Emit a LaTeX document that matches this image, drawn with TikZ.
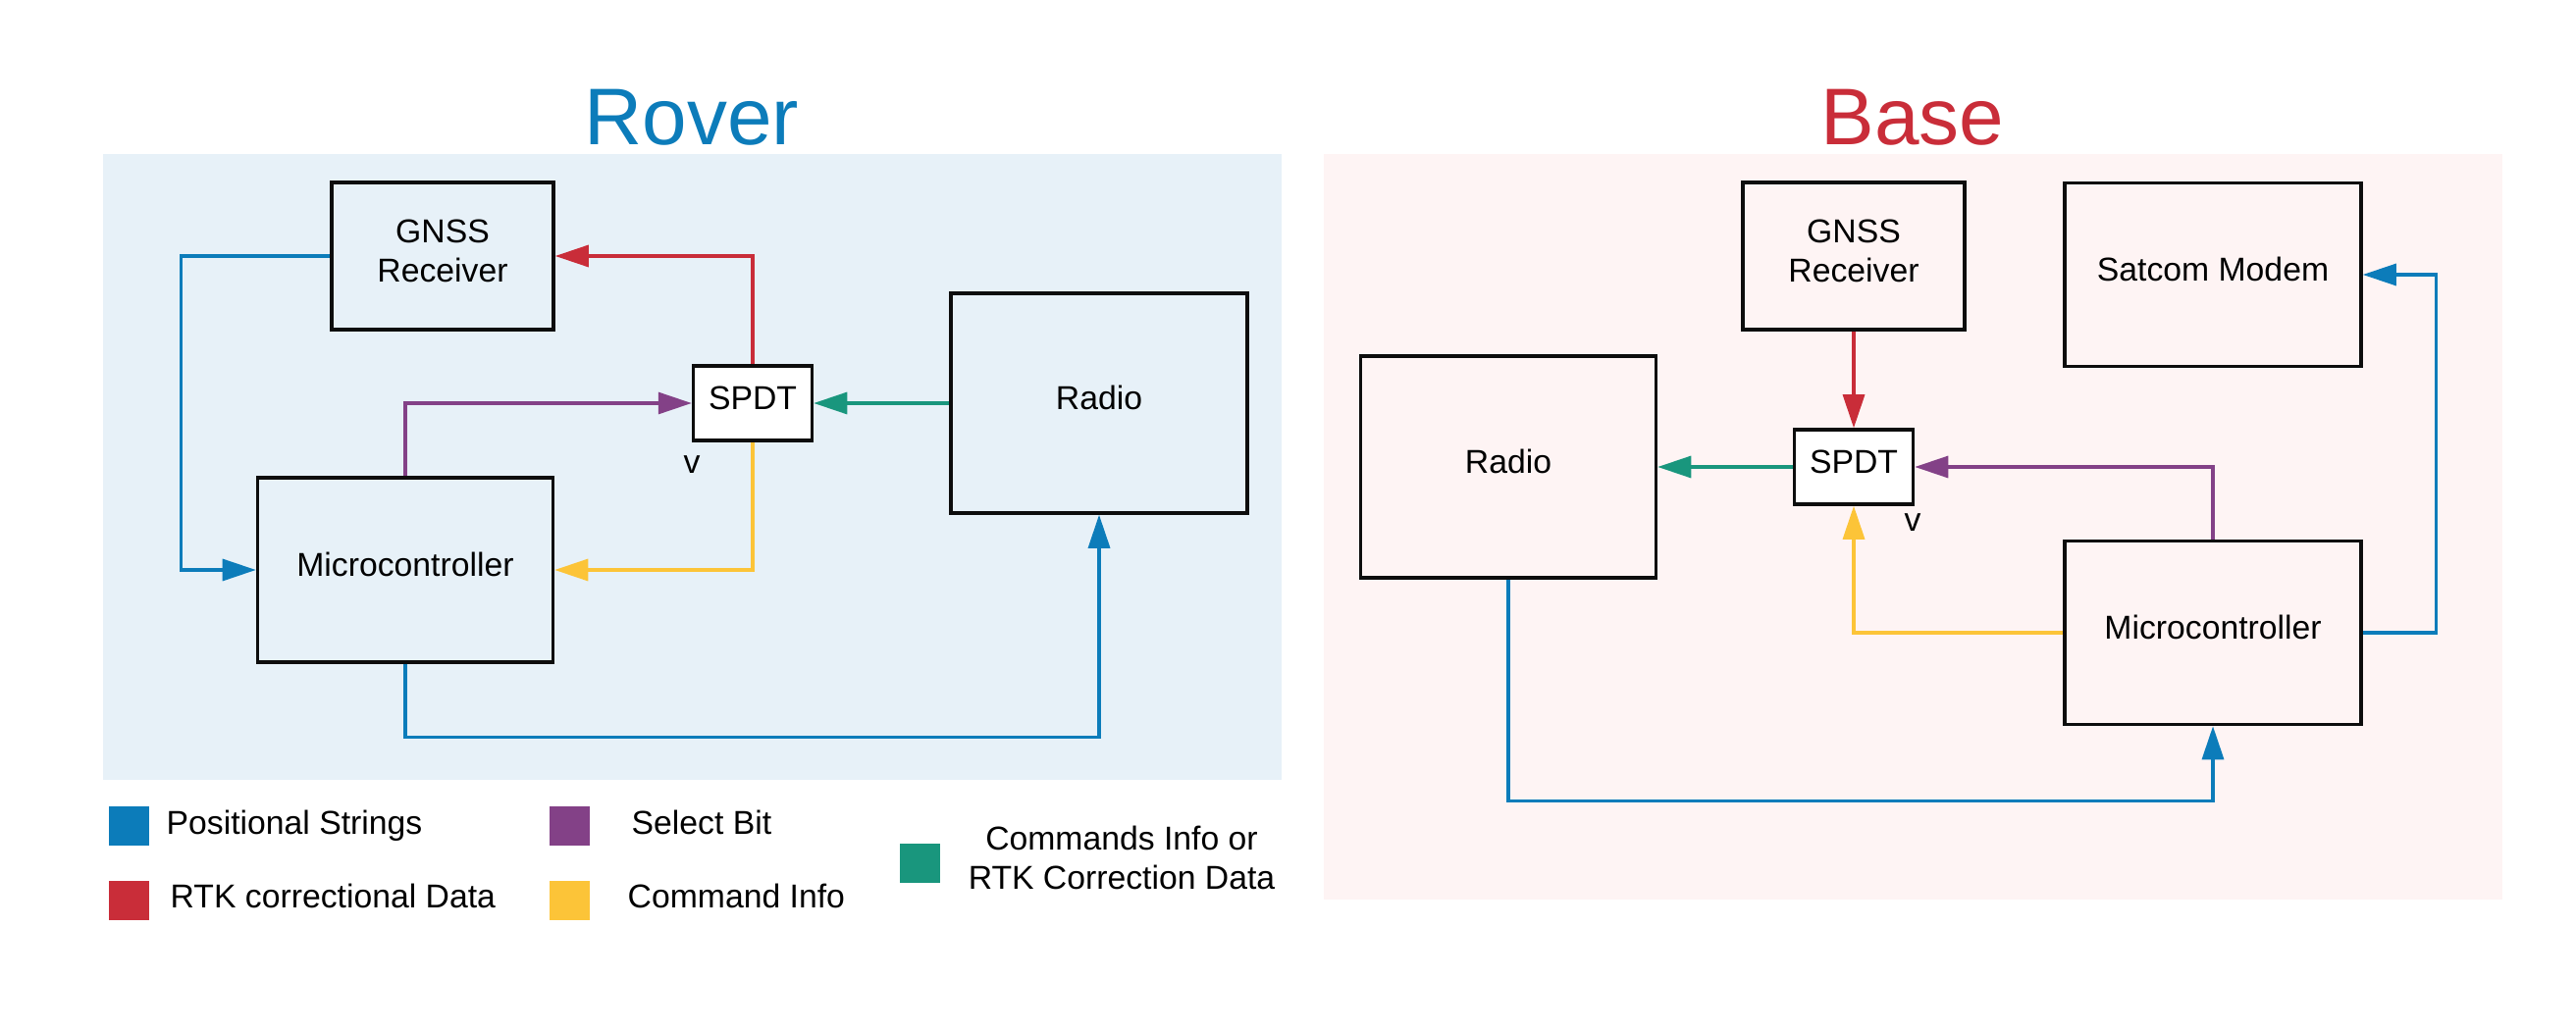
\documentclass[tikz,border=0pt]{standalone}
\usepackage{fontspec}
\setmainfont{Liberation Sans}
\usepackage{xcolor}
\usepackage{tikz}
\usetikzlibrary{arrows.meta, positioning}
\definecolor{lcblue}{HTML}{0C7CBA}
\definecolor{lcred}{HTML}{C92D39}
\definecolor{lcpurple}{HTML}{834187}
\definecolor{lcyellow}{HTML}{FCC438}
\definecolor{lcgreen}{HTML}{19967D}
\definecolor{roverbg}{HTML}{E7F1F8}
\definecolor{basebg}{HTML}{FEF4F4}
\tikzset{
  blk/.style={draw=black!95,line width=1pt,align=center,inner sep=2pt,text depth=3pt,
    font=\fontsize{9.6}{11.6}\selectfont},
  spdtbox/.style={blk,fill=white,minimum width=1.21cm,minimum height=0.76cm},
  flow/.style={-{Triangle[length=3.4mm,width=2.2mm]},line width=0.9pt},
  posflow/.style={flow,lcblue},
  rtkflow/.style={flow,lcred},
  selflow/.style={flow,lcpurple},
  cmdflow/.style={flow,lcyellow},
  linkflow/.style={flow,lcgreen},
  paneltitle/.style={font=\fontsize{23.3}{26}\selectfont},
  keysq/.style={minimum width=0.41cm,minimum height=0.40cm,inner sep=0pt},
  keytxt/.style={font=\fontsize{9.6}{11.4}\selectfont,inner sep=0pt,align=center},
  vmark/.style={font=\fontsize{9.6}{11.4}\selectfont,inner sep=0pt},
}

\begin{document}
\begin{tikzpicture}
  \useasboundingbox (0,0) rectangle (26.25,10.5);
  % panels
  \fill[roverbg] (1.05,2.55) rectangle (13.06,8.93);
  \fill[basebg] (13.49,1.33) rectangle (25.50,8.93);
  \node[paneltitle,text=lcblue] (tRover) at (7.05,9.30) {Rover};
  \node[paneltitle,text=lcred] (tBase) at (19.49,9.30) {Base};

  % rover
  \node[blk,minimum width=2.26cm,minimum height=1.50cm] (rGNSS) at (4.51,7.89) {GNSS\\Receiver};
  \node[spdtbox] (rSPDT) at (7.67,6.39) {SPDT};
  \node[blk,minimum width=3.02cm,minimum height=2.24cm] (rRadio) at (11.20,6.39) {Radio};
  \node[blk,minimum width=3.01cm,minimum height=1.88cm] (rMCU) at (4.13,4.69) {Microcontroller};
  \node[vmark] (rV) at (7.05,5.76) {v};
  \draw[posflow] (rGNSS.west) -- ++(-1.52,0) |- (rMCU.west);
  \draw[rtkflow] (rSPDT.north) |- (rGNSS.east);
  \draw[selflow] (rMCU.north) |- (rSPDT.west);
  \draw[linkflow] (rRadio.west) -- (rSPDT.east);
  \draw[cmdflow] (rSPDT.south) |- (rMCU.east);
  \draw[posflow] (rMCU.south) -- ++(0,-0.75) -| (rRadio.south);

  % base
  \node[blk,minimum width=2.26cm,minimum height=1.50cm] (bGNSS) at (18.89,7.89) {GNSS\\Receiver};
  \node[blk,minimum width=3.02cm,minimum height=1.87cm] (bSatcom) at (22.55,7.70) {Satcom Modem};
  \node[blk,minimum width=3.01cm,minimum height=2.26cm] (bRadio) at (15.37,5.74) {Radio};
  \node[spdtbox] (bSPDT) at (18.89,5.74) {SPDT};
  \node[blk,minimum width=3.02cm,minimum height=1.87cm] (bMCU) at (22.55,4.05) {Microcontroller};
  \node[vmark] (bV) at (19.49,5.17) {v};
  \draw[rtkflow] (bGNSS.south) -- (bSPDT.north);
  \draw[linkflow] (bSPDT.west) -- (bRadio.east);
  \draw[selflow] (bMCU.north) |- (bSPDT.east);
  \draw[cmdflow] (bMCU.west) -| (bSPDT.south);
  \draw[posflow] (bMCU.east) -- ++(0.75,0) |- (bSatcom.east);
  \draw[posflow] (bRadio.south) -- ++(0,-2.26) -| (bMCU.south);

  % legend
  \node[keysq,fill=lcblue] (kPos) at (1.31,2.08) {};
  \node[keysq,fill=lcred] (kRtk) at (1.31,1.32) {};
  \node[keysq,fill=lcpurple] (kSel) at (5.80,2.08) {};
  \node[keysq,fill=lcyellow] (kCmd) at (5.80,1.32) {};
  \node[keysq,fill=lcgreen] (kLink) at (9.37,1.70) {};
  \node[keytxt,anchor=base west] (lPos) at (1.69,2.00) {Positional Strings};
  \node[keytxt,anchor=base west] (lRtk) at (1.73,1.25) {RTK correctional Data};
  \node[keytxt,anchor=base west] (lSel) at (6.43,2.00) {Select Bit};
  \node[keytxt,anchor=base west] (lCmd) at (6.39,1.25) {Command Info};
  \node[keytxt] (lLink) at (11.43,1.76) {Commands Info or\\RTK Correction Data};
\end{tikzpicture}
\end{document}
